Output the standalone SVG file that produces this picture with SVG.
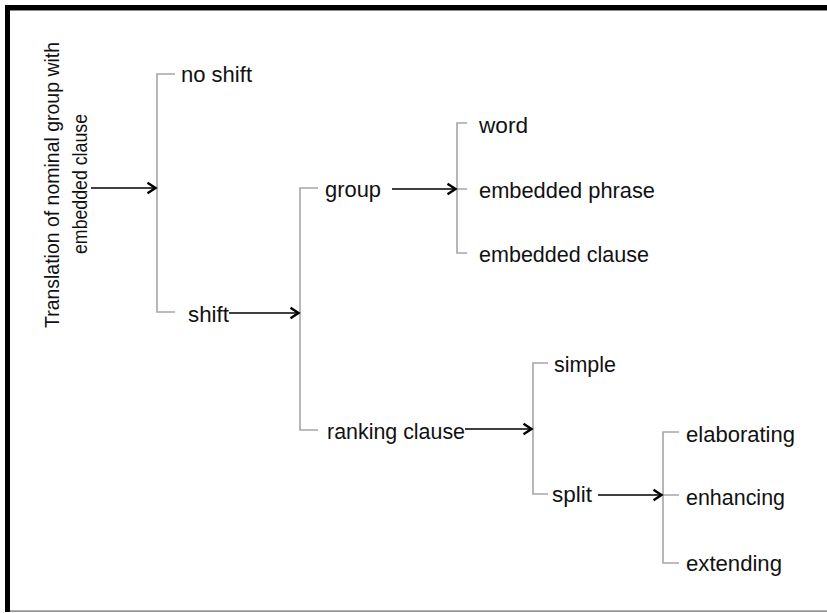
<svg xmlns="http://www.w3.org/2000/svg" width="827" height="613" viewBox="0 0 827 613">
<style>
.lbl{font-family:"Liberation Sans",Arial,sans-serif;font-size:22px;fill:#111;}
.ttl{font-family:"Liberation Sans",Arial,sans-serif;font-size:19.5px;fill:#111;text-anchor:middle;}
.br{fill:none;stroke:#a6a6a6;stroke-width:1.6;}
.ar{fill:none;stroke:#000;stroke-width:1.5;marker-end:url(#arr);}
</style>
<defs>
<marker id="arr" markerUnits="userSpaceOnUse" viewBox="0 0 12 14" refX="10.5" refY="7" markerWidth="12" markerHeight="14" orient="auto">
<path d="M2,1.8 L10,7 L2,12.2" fill="none" stroke="#000" stroke-width="2.4"/>
</marker>
</defs>
<rect width="827" height="613" fill="#fff"/>
<g id="frame">
<rect x="5" y="5" width="822" height="5" fill="#000"/>
<rect x="5" y="10" width="822" height="1" fill="#888"/>
<rect x="5" y="5" width="5" height="607" fill="#000"/>
<rect x="10" y="610.5" width="817" height="1.2" fill="#666"/>
</g>
<g id="connectors">
<path class="br" d="M175,74 H157 V312 H175"/>
<path class="br" d="M318,188 H300 V430 H318"/>
<path class="br" d="M467,123 H457 V253 H467 M457,189 H467"/>
<path class="br" d="M548,363 H533 V494 H548"/>
<path class="br" d="M679,432 H663 V563 H679 M663,495 H679"/>
<line class="ar" x1="91" y1="188" x2="156" y2="188"/>
<line class="ar" x1="229" y1="313" x2="299" y2="313"/>
<line class="ar" x1="392" y1="189" x2="456" y2="189"/>
<line class="ar" x1="465" y1="429" x2="532" y2="429"/>
<line class="ar" x1="598" y1="495" x2="662" y2="495"/>
</g>
<g id="title">
<text class="ttl" transform="translate(59,185) rotate(-90)" textLength="286" lengthAdjust="spacingAndGlyphs">Translation of nominal group with</text>
<text class="ttl" transform="translate(87,184) rotate(-90)" textLength="140" lengthAdjust="spacingAndGlyphs">embedded clause</text>
</g>
<g id="no-shift"><text class="lbl" x="181" y="82" textLength="71" lengthAdjust="spacingAndGlyphs">no shift</text></g>
<g id="shift"><text class="lbl" x="188" y="322" textLength="41" lengthAdjust="spacingAndGlyphs">shift</text></g>
<g id="group"><text class="lbl" x="325" y="197" textLength="56" lengthAdjust="spacingAndGlyphs">group</text></g>
<g id="word"><text class="lbl" x="479" y="133" textLength="49" lengthAdjust="spacingAndGlyphs">word</text></g>
<g id="embedded-phrase"><text class="lbl" x="479" y="198" textLength="176" lengthAdjust="spacingAndGlyphs">embedded phrase</text></g>
<g id="embedded-clause"><text class="lbl" x="479" y="262" textLength="170" lengthAdjust="spacingAndGlyphs">embedded clause</text></g>
<g id="ranking-clause"><text class="lbl" x="327" y="439" textLength="138" lengthAdjust="spacingAndGlyphs">ranking clause</text></g>
<g id="simple"><text class="lbl" x="554" y="372" textLength="62" lengthAdjust="spacingAndGlyphs">simple</text></g>
<g id="split"><text class="lbl" x="552" y="502" textLength="40" lengthAdjust="spacingAndGlyphs">split</text></g>
<g id="elaborating"><text class="lbl" x="686" y="442" textLength="109" lengthAdjust="spacingAndGlyphs">elaborating</text></g>
<g id="enhancing"><text class="lbl" x="686" y="505" textLength="99" lengthAdjust="spacingAndGlyphs">enhancing</text></g>
<g id="extending"><text class="lbl" x="686" y="571" textLength="96" lengthAdjust="spacingAndGlyphs">extending</text></g>
</svg>
